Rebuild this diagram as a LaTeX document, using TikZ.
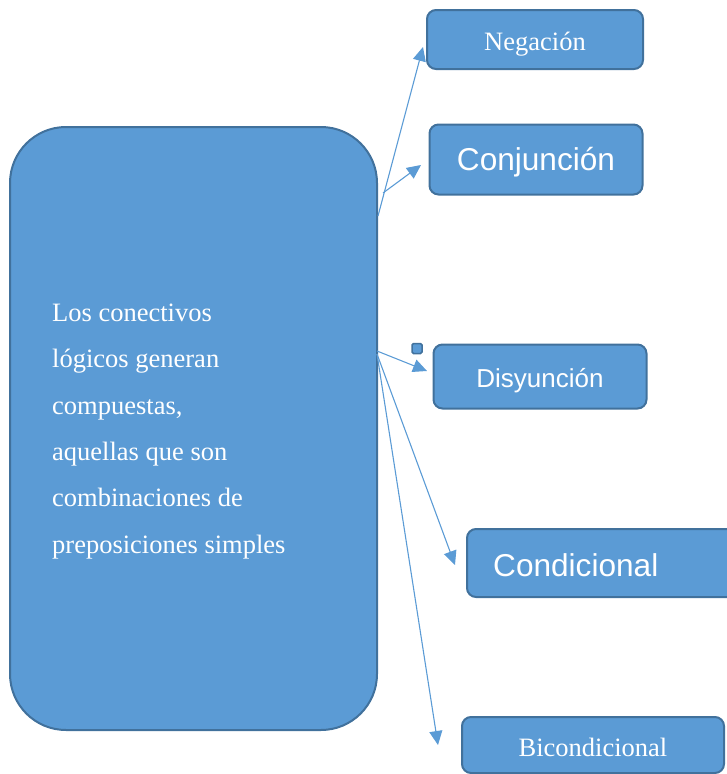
\documentclass[tikz,border=0pt]{standalone}
\usepackage{fontspec}
\setmainfont{Liberation Serif}
\newfontfamily\arialf{Liberation Sans}
\usetikzlibrary{arrows.meta,calc}
\definecolor{fillb}{HTML}{5B9BD5}
\definecolor{edgeb}{HTML}{41719C}
\newcommand{\lowr}[2]{\raisebox{-#1}[\height][\depth]{#2}}
\begin{document}
\begin{tikzpicture}[x=1pt,y=-1pt,
  box/.style={draw=edgeb, fill=fillb, line width=2pt, rounded corners=9pt, inner sep=0pt, text=white},
  conn/.style={draw=fillb, line width=1.1pt, -{Triangle[length=14pt,width=13pt]}},
  serifl/.style={font=\fontsize{26.5}{30}\selectfont},
  sansl/.style={font=\arialf\fontsize{31.6}{36}\selectfont},
  sanss/.style={font=\arialf\fontsize{26}{30}\selectfont}
]
\useasboundingbox (0,0) rectangle (727,774);
% main box
\node[box, rounded corners=56pt, minimum width=367pt, minimum height=603pt] (big) at (193.5,428.5) {};
\node[anchor=north west, inner sep=0pt, text=white, align=left, font=\fontsize{26.5}{46.4}\selectfont] (txt) at (52,303.5)
  {Los conectivos\\ lógicos generan\\ compuestas,\\ aquellas que son\\ combinaciones de\\ preposiciones simples};
% target boxes
\node[box, serifl, minimum width=216pt, minimum height=59pt] (neg) at (535,39.5) {\lowr{5pt}{Negación}};
\node[box, sansl, minimum width=213pt, minimum height=70pt] (conj) at (536,159.5) {\lowr{3pt}{Conjunción}};
\node[box, sanss, minimum width=213pt, minimum height=64pt] (disy) at (540,376.5) {\lowr{4pt}{Disyunción}};
\node[box, minimum width=278pt, minimum height=68pt] (cond) at (606,563) {};
\node[anchor=west, inner sep=0pt, text=white, sansl] (condtxt) at (493,565) {Condicional};
\node[box, serifl, minimum width=262pt, minimum height=56pt] (bic) at (593,745) {\lowr{2pt}{Bicondicional}};
% small handle
\node[draw=edgeb, fill=fillb, line width=1.5pt, rounded corners=1.5pt, minimum size=10pt, inner sep=0pt] (handle) at (417,348.5) {};
% connector start points
\coordinate (s1) at (378,216);
\coordinate (s2) at (383,193);
\coordinate (s3) at (377,351);
\coordinate (s4) at (377,354);
\draw[conn] (s1) -- ($(neg.west)+(-3,7.5)$);
\draw[conn] (s2) -- ($(conj.west)+(-7.5,5.5)$);
\draw[conn] (s3) -- ($(disy.west)+(-5.5,-5.5)$);
\draw[conn] (s4) -- ($(cond.west)+(-11,2)$);
\draw[conn] (s4) -- ($(bic.west)+(-23,0)$);
\end{tikzpicture}
\end{document}
